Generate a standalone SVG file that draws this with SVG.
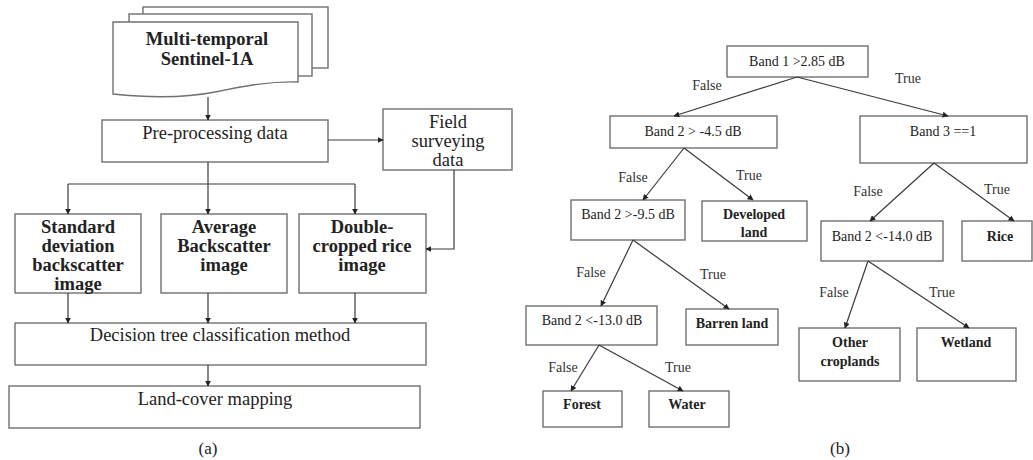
<svg xmlns="http://www.w3.org/2000/svg" width="1033" height="460" viewBox="0 0 1033 460">
<defs>
<marker id="ah" viewBox="0 0 10 10" refX="9" refY="5" markerWidth="6" markerHeight="6" markerUnits="userSpaceOnUse" orient="auto">
<path d="M0,0 L10,5 L0,10 z" fill="#222"/>
</marker>
<style>
.box{fill:#fff;stroke:#707070;stroke-width:1.4}
.c{fill:none;stroke:#3a3a3a;stroke-width:1.2;marker-end:url(#ah)}
.ln{fill:none;stroke:#3a3a3a;stroke-width:1.2}
.tl{font-family:"Liberation Serif","Times New Roman",serif;font-size:18.5px;fill:#222;text-anchor:middle}
.tlb{font-family:"Liberation Serif","Times New Roman",serif;font-size:18.5px;font-weight:bold;fill:#222;text-anchor:middle}
.tr{font-family:"Liberation Serif","Times New Roman",serif;font-size:14px;fill:#222;text-anchor:middle}
.trb{font-family:"Liberation Serif","Times New Roman",serif;font-size:14px;font-weight:bold;fill:#222;text-anchor:middle}
.lab{font-family:"Liberation Serif","Times New Roman",serif;font-size:14px;fill:#333;text-anchor:middle}
.cap{font-family:"Liberation Serif","Times New Roman",serif;font-size:17px;fill:#222;text-anchor:middle}
</style>
</defs>
<rect width="1033" height="460" fill="#fff"/>

<!-- Panel (a) -->
<g id="sentinel">
<rect class="box" x="143" y="7" width="185" height="61"/>
<rect class="box" x="129" y="14" width="183" height="62"/>
<path class="box" d="M113,22 H298 V82 C270,81 245,86 215,92 C185,98 150,98 113,94 Z"/>
<text class="tlb" x="207" y="45">Multi-temporal</text>
<text class="tlb" x="207" y="65">Sentinel-1A</text>
</g>
<g id="preprocessing">
<rect class="box" x="102" y="120" width="226" height="42"/>
<text class="tl" x="215" y="139">Pre-processing data</text>
</g>
<g id="field">
<rect class="box" x="383" y="109" width="129" height="61"/>
<text class="tl" x="448" y="128">Field</text>
<text class="tl" x="448" y="147">surveying</text>
<text class="tl" x="448" y="166">data</text>
</g>
<g id="stddev">
<rect class="box" x="15" y="214" width="126" height="79"/>
<text class="tlb" x="78" y="233">Standard</text>
<text class="tlb" x="78" y="252">deviation</text>
<text class="tlb" x="78" y="271">backscatter</text>
<text class="tlb" x="78" y="290">image</text>
</g>
<g id="average">
<rect class="box" x="161" y="214" width="126" height="79"/>
<text class="tlb" x="224" y="233">Average</text>
<text class="tlb" x="224" y="252">Backscatter</text>
<text class="tlb" x="224" y="271">image</text>
</g>
<g id="double">
<rect class="box" x="299" y="214" width="127" height="79"/>
<text class="tlb" x="362" y="233">Double-</text>
<text class="tlb" x="362" y="252">cropped rice</text>
<text class="tlb" x="362" y="271">image</text>
</g>
<g id="decision">
<rect class="box" x="15" y="323" width="411" height="42"/>
<text class="tl" x="220" y="341">Decision tree classification method</text>
</g>
<g id="landcover">
<rect class="box" x="9" y="386" width="411" height="42"/>
<text class="tl" x="215" y="405">Land-cover mapping</text>
</g>
<text class="cap" x="208" y="454">(a)</text>

<!-- Panel (b) -->
<g id="band1">
<rect class="box" x="727" y="46" width="141" height="31"/>
<text class="tr" x="797" y="66">Band 1 &gt;2.85 dB</text>
</g>
<g id="band2a">
<rect class="box" x="610" y="116" width="167" height="32"/>
<text class="tr" x="693" y="136">Band 2 &gt; -4.5 dB</text>
</g>
<g id="band3">
<rect class="box" x="860" y="116" width="167" height="47"/>
<text class="tr" x="943" y="136">Band 3 ==1</text>
</g>
<g id="band2b">
<rect class="box" x="571" y="200" width="114" height="40"/>
<text class="tr" x="628" y="219">Band 2 &gt;-9.5 dB</text>
</g>
<g id="developed">
<rect class="box" x="702" y="201" width="105" height="40"/>
<text class="trb" x="754" y="219">Developed</text>
<text class="trb" x="754" y="237">land</text>
</g>
<g id="band2c">
<rect class="box" x="821" y="221" width="122" height="40"/>
<text class="tr" x="882" y="241">Band 2 &lt;-14.0 dB</text>
</g>
<g id="rice">
<rect class="box" x="962" y="221" width="70" height="40"/>
<text class="trb" x="1000" y="241">Rice</text>
</g>
<g id="band2d">
<rect class="box" x="526" y="306" width="131" height="39"/>
<text class="tr" x="592" y="325">Band 2 &lt;-13.0 dB</text>
</g>
<g id="barren">
<rect class="box" x="686" y="309" width="92" height="36"/>
<text class="trb" x="732" y="328">Barren land</text>
</g>
<g id="other">
<rect class="box" x="799" y="328" width="101" height="53"/>
<text class="trb" x="850" y="347">Other</text>
<text class="trb" x="850" y="366">croplands</text>
</g>
<g id="wetland">
<rect class="box" x="917" y="328" width="99" height="53"/>
<text class="trb" x="966" y="347">Wetland</text>
</g>
<g id="forest">
<rect class="box" x="543" y="391" width="79" height="36"/>
<text class="trb" x="582" y="409">Forest</text>
</g>
<g id="water">
<rect class="box" x="649" y="391" width="80" height="36"/>
<text class="trb" x="687" y="409">Water</text>
</g>
<text class="cap" x="840" y="454">(b)</text>

<!-- Connectors -->
<g id="connectors">
<path class="c" d="M208,97 V120"/>
<path class="c" d="M328,140 H383"/>
<path class="ln" d="M208,162 V184"/>
<path class="ln" d="M68,184 H355"/>
<path class="c" d="M68,184 V214"/>
<path class="c" d="M208,184 V214"/>
<path class="c" d="M355,184 V214"/>
<path class="c" d="M454,170 V249 H426"/>
<path class="c" d="M68,293 V323"/>
<path class="c" d="M208,293 V323"/>
<path class="c" d="M355,293 V323"/>
<path class="c" d="M208,365 V386"/>

<path class="c" d="M797,77 L674,116"/>
<path class="c" d="M797,77 L948,116"/>
<path class="c" d="M684,148 L643,200"/>
<path class="c" d="M684,148 L753,200"/>
<path class="c" d="M934,163 L870,221"/>
<path class="c" d="M934,163 L1014,221"/>
<path class="c" d="M633,240 L601,306"/>
<path class="c" d="M633,240 L729,309"/>
<path class="c" d="M868,261 L845,328"/>
<path class="c" d="M868,261 L969,328"/>
<path class="c" d="M599,345 L571,391"/>
<path class="c" d="M599,345 L683,391"/>

<text class="lab" x="707" y="90">False</text>
<text class="lab" x="908" y="83">True</text>
<text class="lab" x="633" y="182">False</text>
<text class="lab" x="749" y="180">True</text>
<text class="lab" x="868" y="196">False</text>
<text class="lab" x="997" y="194">True</text>
<text class="lab" x="591" y="277">False</text>
<text class="lab" x="713" y="279">True</text>
<text class="lab" x="834" y="297">False</text>
<text class="lab" x="942" y="297">True</text>
<text class="lab" x="563" y="372">False</text>
<text class="lab" x="678" y="372">True</text>
</g>
</svg>
